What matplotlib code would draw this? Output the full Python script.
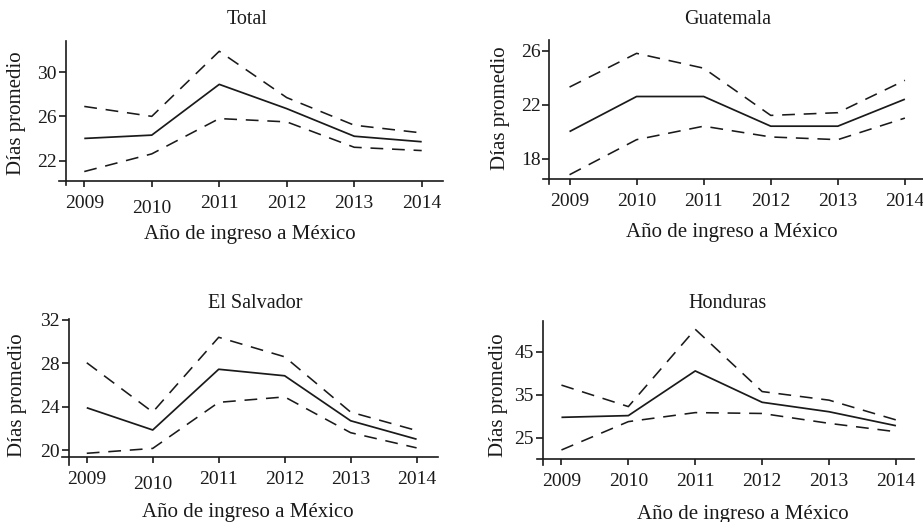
import matplotlib
matplotlib.use("Agg")
import matplotlib.pyplot as plt
import matplotlib.transforms as mtransforms

plt.rcParams['font.family'] = ['Liberation Serif', 'DejaVu Serif']

years = [2009, 2010, 2011, 2012, 2013, 2014]

total_mean = [24.0, 24.3, 28.9, 26.7, 24.2, 23.7]
total_upper = [26.9, 26.0, 31.9, 27.7, 25.2, 24.5]
total_lower = [21.0, 22.6, 25.8, 25.5, 23.2, 22.9]

guate_mean = [20.0, 22.6, 22.6, 20.4, 20.4, 22.4]
guate_upper = [23.3, 25.8, 24.7, 21.2, 21.4, 23.8]
guate_lower = [16.8, 19.4, 20.4, 19.6, 19.4, 21.0]

salv_mean = [23.9, 21.85, 27.45, 26.85, 22.7, 21.0]
salv_upper = [28.05, 23.5, 30.4, 28.6, 23.5, 21.8]
salv_lower = [19.7, 20.15, 24.4, 24.9, 21.6, 20.2]

hond_mean = [29.7, 30.1, 40.5, 33.2, 31.0, 27.75]
hond_upper = [37.2, 32.2, 50.2, 35.7, 33.7, 29.1]
hond_lower = [22.1, 28.7, 30.8, 30.6, 28.3, 26.35]

titles = ["Total", "Guatemala", "El Salvador", "Honduras"]
xlabel = "Año de ingreso a México"
ylabel = "Días promedio"

W, H = 923, 522
fig = plt.figure(figsize=(W / 100, H / 100), dpi=100)
col = "#1a1a1a"

panels = [
    dict(mean=total_mean, up=total_upper, lo=total_lower, yticks=[22, 26, 30],
         box=(59.3, 41, 443.3, 185), xlim=(2008.63, 2014.32), ylim=(19.78, 32.83),
         sx=2008.73, sy=20.14, title=(247, 20), xl=(250, 235), yl=(17, 113), shift2010=True),
    dict(mean=guate_mean, up=guate_upper, lo=guate_lower, yticks=[18, 22, 26],
         box=(542.7, 40, 923, 184.3), xlim=(2008.60, 2014.27), ylim=(16.09, 26.79),
         sx=2008.70, sy=16.46, title=(728, 20), xl=(732, 233), yl=(500, 108), shift2010=False),
    dict(mean=salv_mean, up=salv_upper, lo=salv_lower, yticks=[20, 24, 28, 32],
         box=(61.7, 319.4, 437.7, 465), xlim=(2008.62, 2014.32), ylim=(18.62, 32.05),
         sx=2008.73, sy=19.38, title=(255, 303), xl=(248, 513), yl=(18, 395), shift2010=True),
    dict(mean=hond_mean, up=hond_upper, lo=hond_lower, yticks=[25, 35, 45],
         box=(536.7, 320.7, 914, 465), xlim=(2008.63, 2014.27), ylim=(18.6, 52.2),
         sx=2008.72, sy=20.0, title=(728, 303), xl=(743, 514), yl=(498, 395), shift2010=False),
]

for p, title in zip(panels, titles):
    x0, y0, x1, y1 = p['box']
    ax = fig.add_axes([x0 / W, 1 - y1 / H, (x1 - x0) / W, (y1 - y0) / H])
    ax.set_facecolor('none')
    ax.plot(years, p['mean'], color=col, lw=1.25, solid_capstyle='butt')
    ax.plot(years, p['up'], color=col, lw=1.15, linestyle=(0, (8, 5.5)))
    ax.plot(years, p['lo'], color=col, lw=1.15, linestyle=(0, (8, 5.5)))
    ax.set_xlim(*p['xlim'])
    ax.set_ylim(*p['ylim'])
    for s in ('top', 'right'):
        ax.spines[s].set_visible(False)
    ax.spines['left'].set_position(('data', p['sx']))
    ax.spines['bottom'].set_position(('data', p['sy']))
    for s in ('left', 'bottom'):
        ax.spines[s].set_linewidth(1.2)
        ax.spines[s].set_color(col)
    ax.set_xticks(years)
    ax.set_xticklabels([str(y) for y in years])
    ax.set_yticks(p['yticks'])
    ax.set_yticklabels([str(v) for v in p['yticks']])
    ax.tick_params(axis='x', direction='out', length=4.5, width=1.2, color=col,
                   labelsize=14, pad=5.5, labelcolor=col)
    ax.tick_params(axis='y', direction='out', length=5, width=1.2, color=col,
                   labelsize=14, pad=1.5, labelcolor=col)
    if p['shift2010']:
        lab = ax.get_xticklabels()[1]
        lab.set_transform(lab.get_transform() + mtransforms.ScaledTranslation(0, -5 / 100, fig.dpi_scale_trans))
    fig.text(p['title'][0] / W, 1 - p['title'][1] / H, title, ha='center', va='center',
             fontsize=14.5, color=col)
    fig.text(p['xl'][0] / W, 1 - p['xl'][1] / H, xlabel, ha='center', va='center',
             fontsize=15, color=col)
    fig.text(p['yl'][0] / W, 1 - p['yl'][1] / H, ylabel, ha='center', va='center',
             fontsize=15, color=col, rotation=90)

fig.savefig("out.png", dpi=100)
